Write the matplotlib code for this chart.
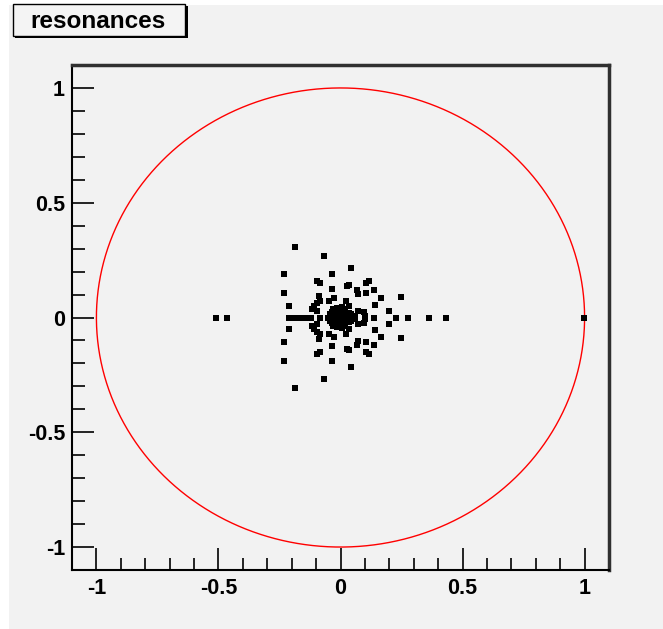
import numpy as np
import matplotlib.pyplot as plt
from matplotlib.patches import Rectangle
from matplotlib.ticker import MultipleLocator

plt.rcParams['font.family'] = ['Liberation Sans', 'DejaVu Sans']

# resonances with Im > 0 (mirrored below the real axis)
upper_re = [-0.186, -0.067, 0.044, -0.231, -0.034, -0.095, -0.085, 0.025, 0.035,
            0.105, 0.118, -0.034, 0.066, 0.072, 0.104, 0.137, -0.231, 0.164, 0.249,
            -0.21, -0.088, -0.086, -0.097, -0.107, -0.048, -0.027, 0.022, 0.033,
            0.142, 0.071, 0.098, 0.100, 0.197, -0.115, -0.095,
            -0.04, -0.03, -0.02, -0.01, 0.0, 0.01, 0.02, 0.03, 0.04, -0.035,
            0.005, -0.015, 0.0, 0.015, -0.025, 0.045, 0.05,
            -0.045, -0.02, 0.0, 0.02, 0.035, -0.01, 0.01, 0.025, -0.03, 0.06]
upper_im = [0.309, 0.266, 0.215, 0.189, 0.189, 0.160, 0.152, 0.138, 0.143,
            0.152, 0.158, 0.125, 0.118, 0.103, 0.106, 0.119, 0.106, 0.084, 0.090,
            0.048, 0.093, 0.074, 0.064, 0.049, 0.071, 0.083, 0.071, 0.052,
            0.055, 0.029, 0.024, 0.006, 0.028, 0.036, 0.030,
            0.005, 0.012, 0.02, 0.03, 0.035, 0.025, 0.016, 0.009, 0.004, 0.026,
            0.046, 0.043, 0.012, 0.006, 0.008, 0.015, 0.003,
            0.015, 0.032, 0.022, 0.028, 0.018, 0.018, 0.038, 0.004, 0.035, 0.008]

# resonances on the real axis
real_re = [-0.509, -0.467, -0.21, -0.20, -0.19, -0.18, -0.17, -0.16, -0.15, -0.14,
           -0.13, -0.12, -0.085, -0.05, -0.03, -0.01, 0.01, 0.03, 0.055, 0.137,
           0.228, 0.275, 0.361, 0.433, 0.997]

re = np.concatenate([upper_re, upper_re, real_re])
im = np.concatenate([upper_im, -np.array(upper_im), np.zeros(len(real_re))])

fig = plt.figure(figsize=(6.63, 6.29), dpi=100, facecolor='white')
fig.patches.append(Rectangle((9 / 663, 0), 1, (629 - 5) / 629, transform=fig.transFigure,
                             facecolor='#f2f2f2', edgecolor='none', zorder=-10))

ax = fig.add_axes([72 / 663, 59 / 629, 537 / 663, 505 / 629])
ax.set_facecolor('#f2f2f2')

t = np.linspace(0, 2 * np.pi, 400)
ax.plot(np.cos(t), np.sin(t), color='red', lw=1.0)
ax.plot(re, im, 's', color='black', markersize=3.8, markeredgewidth=0)

ax.set_xlim(-1.1, 1.1)
ax.set_ylim(-1.1, 1.1)
for a in (ax.xaxis, ax.yaxis):
    a.set_major_locator(MultipleLocator(0.5))
    a.set_minor_locator(MultipleLocator(0.1))
ax.set_xticks([-1, -0.5, 0, 0.5, 1])
ax.set_xticklabels(['-1', '-0.5', '0', '0.5', '1'])
ax.set_yticks([-1, -0.5, 0, 0.5, 1])
ax.set_yticklabels(['-1', '-0.5', '0', '0.5', '1'])
ax.tick_params(which='major', direction='in', length=16, width=1.2, labelsize=15.5, pad=6)
ax.tick_params(which='minor', direction='in', length=9, width=1.2)
ax.tick_params(axis='y', pad=5)
for lab in ax.get_xticklabels() + ax.get_yticklabels():
    lab.set_fontweight('bold')
for s in ['left', 'bottom']:
    ax.spines[s].set_linewidth(1.5)
for s in ['top', 'right']:
    ax.spines[s].set_linewidth(2.5)
    ax.spines[s].set_color('#303030')

# title box with shadow
fig.patches.append(Rectangle((15 / 663, 1 - 38 / 629), 173 / 663, 32 / 629,
                             transform=fig.transFigure, facecolor='black',
                             edgecolor='none', zorder=5))
fig.patches.append(Rectangle((13 / 663, 1 - 36 / 629), 172 / 663, 32 / 629,
                             transform=fig.transFigure, facecolor='#f4f4f4',
                             edgecolor='black', lw=1.0, zorder=6))
fig.text(98 / 663, 1 - 21 / 629, 'resonances', ha='center', va='center',
         fontsize=17.5, fontweight='bold', zorder=7)

fig.savefig('out.png', dpi=100, facecolor=fig.get_facecolor())
